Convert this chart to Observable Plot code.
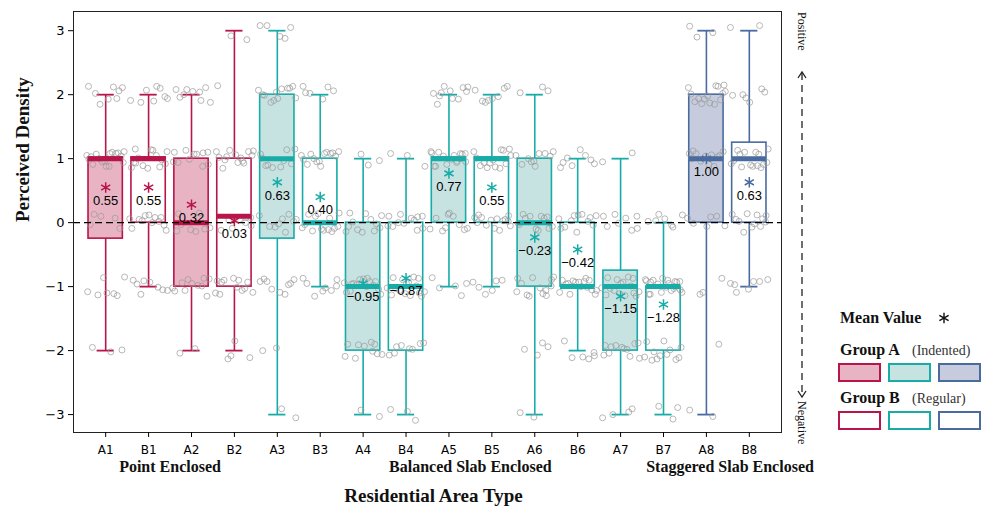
<!DOCTYPE html>
<html><head><meta charset="utf-8">
<script src="https://cdn.jsdelivr.net/npm/d3@7"></script>
<script src="https://cdn.jsdelivr.net/npm/@observablehq/plot@0.6"></script>
<style>
body{margin:0;background:#fff}
#wrap{position:relative;width:992px;height:513px}
#wrap svg{position:absolute;left:0;top:0}
</style>
</head><body><div id="wrap"></div>
<script>
const categories = ["A1","B1","A2","B2","A3","B3","A4","B4","A5","B5","A6","B6","A7","B7","A8","B8"];
const colorGroup = [0,0,0,0,1,1,1,1,1,1,1,1,1,1,2,2];
const filled = [1,0,1,0,1,0,1,0,1,0,1,0,1,0,1,0];
const strokeColors = ["#B8154A","#17ACA8","#4A6BA0"];
const fillColors = ["#E8B4C4","#C6E3E2","#C6CCDD"];

const whiskerLow  = [-2,-1,-2,-2,-3,-1,-3,-3,-1,-1,-3,-2,-3,-3,-3,-1];
const q1          = [-0.25,0,-1,-1,-0.25,0,-2,-2,0,0,-1,-1,-2,-2,0,0];
const medians     = [1,1,0,0.1,1,0,-1,-1,1,1,0,-1,-1,-1,1,1];
const q3          = [1.02,1.02,1,1,2,1,0,0,1.02,1.02,1,0,-0.75,-1,2,1.25];
const whiskerHigh = [2,2,2,3,3,2,1,1,2,2,2,1,1,0,3,3];
const means       = [0.55,0.55,0.28,0.03,0.63,0.40,-0.95,-0.87,0.77,0.55,-0.23,-0.42,-1.15,-1.28,1.00,0.63];
const meanLabels  = ["0.55","0.55","0.32","0.03","0.63","0.40","\u22120.95","\u22120.87","0.77","0.55","\u22120.23","\u22120.42","\u22121.15","\u22121.28","1.00","0.63"];

// response counts at levels -3..3 for each category (the grey jittered circles)
const levels = [-3,-2,-1,0,1,2,3];
const responseCounts = [
  [0,3,7,5,17,8,0],
  [0,0,8,12,14,8,0],
  [0,2,11,8,11,9,0],
  [0,4,12,8,14,1,2],
  [2,2,9,9,10,12,5],
  [0,0,8,14,14,6,0],
  [2,10,15,12,3,0,0],
  [3,8,16,12,3,0,0],
  [0,0,5,10,16,11,0],
  [0,0,6,14,14,8,0],
  [2,4,13,12,10,3,0],
  [0,6,16,12,8,0,0],
  [4,12,16,8,2,0,0],
  [3,12,20,7,0,0,0],
  [2,1,3,6,12,15,3],
  [0,0,7,12,15,6,2]
];
const jitterX = [-0.31,0.12,0.38,-0.05,0.27,-0.42,0.19,-0.18,0.44,0.03,-0.36,0.22,-0.11,0.33,-0.27,0.08,0.41,-0.22,0.15,-0.39,0.29,-0.08,0.36,-0.15,0.01,-0.44,0.24,-0.30,0.10,0.43,-0.02,-0.34,0.18,0.31,-0.24,0.06,-0.40,0.39,-0.13,0.26];
const jitterY = [0.05,-0.09,0.13,-0.02,0.08,-0.12,0.01,0.11,-0.06,0.14,-0.04,0.07,-0.14,0.03,0.10,-0.08,0.12,-0.01,-0.11,0.06,0.09,-0.13,0.02,-0.05,0.15,-0.07,0.04,-0.10,0.13,0.00,-0.03,0.11,-0.12,0.07,-0.15,0.05,0.10,-0.06,0.08,-0.09];

const yTicks = [-3,-2,-1,0,1,2,3];
const groupLabels = ["Point Enclosed","Balanced Slab Enclosed","Staggered Slab Enclosed"];
const groupLabelPos = [1.5,8.5,14.55];

const stats = categories.map((c,i)=>({
  i, c, lo: whiskerLow[i], q1: q1[i], med: medians[i], q3: q3[i], hi: whiskerHigh[i],
  mean: means[i], label: meanLabels[i],
  stroke: strokeColors[colorGroup[i]], fill: filled[i] ? fillColors[colorGroup[i]] : "#fff"
}));

const points = [];
responseCounts.forEach((counts,i)=>{
  let j = 0;
  counts.forEach((n,k)=>{
    for (let m=0;m<n;m++){
      points.push({x: i + jitterX[(j + i*7) % jitterX.length], y: levels[k] + jitterY[(j*3 + i*5) % jitterY.length]});
      j++;
    }
  });
});

const BW = 0.4, CW = 0.2;
const fmt = d => d < 0 ? "\u2212" + (-d) : String(d);

const plot = Plot.plot({
  width: 992, height: 513,
  marginLeft: 73, marginRight: 211, marginTop: 11, marginBottom: 81,
  style: {fontFamily: "DejaVu Sans", background: "#fff", overflow: "visible"},
  x: {type: "linear", domain: [-0.75, 15.75]},
  y: {domain: [-3.28, 3.3]},
  marks: [
    Plot.ruleX(stats, {x: "i", y1: "lo", y2: "q1", stroke: "stroke", strokeWidth: 1.6}),
    Plot.ruleX(stats, {x: "i", y1: "q3", y2: "hi", stroke: "stroke", strokeWidth: 1.6}),
    Plot.ruleY(stats, {y: "lo", x1: d=>d.i-CW, x2: d=>d.i+CW, stroke: "stroke", strokeWidth: 1.8}),
    Plot.ruleY(stats, {y: "hi", x1: d=>d.i-CW, x2: d=>d.i+CW, stroke: "stroke", strokeWidth: 1.8}),
    Plot.rect(stats, {x1: d=>d.i-BW, x2: d=>d.i+BW, y1: "q1", y2: "q3", fill: "fill", stroke: "stroke", strokeWidth: 1.6}),
    Plot.dot(points, {x: "x", y: "y", r: 3, stroke: "#9a9a9a", strokeOpacity: 0.7, strokeWidth: 1, fill: "none"}),
    Plot.ruleY(stats, {y: "med", x1: d=>d.i-BW, x2: d=>d.i+BW, stroke: "stroke", strokeWidth: 5}),
    Plot.ruleY([0], {stroke: "#000", strokeWidth: 1.2, strokeDasharray: "7,4"}),
    Plot.dot(stats, {x: "i", y: "mean", symbol: "asterisk", r: 5, stroke: "stroke", strokeWidth: 1.5}),
    Plot.text(stats, {x: "i", y: "mean", text: "label", dy: 13, fontSize: 13, fontFamily: "Liberation Sans", fill: "#000"}),
    Plot.frame({stroke: "#222", strokeWidth: 1}),
    Plot.axisX(d3.range(categories.length), {tickFormat: i => categories[i], tickSize: 5, tickPadding: 8, fontSize: 12, label: null}),
    Plot.axisY(yTicks, {tickFormat: fmt, tickSize: 5, tickPadding: 4, fontSize: 13, label: null}),
    Plot.text(groupLabels, {x: (d,i)=>groupLabelPos[i], text: d=>d, frameAnchor: "bottom", dy: 39, fontSize: 16, fontWeight: "bold", fontFamily: "Liberation Serif", fill: "#111"}),
    Plot.text(["Residential Area Type"], {frameAnchor: "bottom", dx: 6, dy: 69, fontSize: 19, fontWeight: "bold", fontFamily: "Liberation Serif", fill: "#111"}),
    Plot.text(["Perceived Density"], {frameAnchor: "left", dx: -51, rotate: -90, fontSize: 19, fontWeight: "bold", fontFamily: "Liberation Serif", fill: "#111"})
  ]
});
document.getElementById("wrap").appendChild(plot);

// overlay: right-side direction annotation and legend
const ov = d3.select("#wrap").append("svg").attr("width", 992).attr("height", 513).style("pointer-events","none");
const serif = "Liberation Serif";
ov.append("text").attr("transform","translate(802,12) rotate(90)").attr("dominant-baseline","central")
  .attr("font-family", serif).attr("font-size", 12).attr("fill","#111").text("Positive");
ov.append("text").attr("transform","translate(802,401) rotate(90)").attr("dominant-baseline","central")
  .attr("font-family", serif).attr("font-size", 12).attr("fill","#111").text("Negative");
ov.append("line").attr("x1",802).attr("x2",802).attr("y1",73).attr("y2",396).attr("stroke","#222").attr("stroke-width",1.3).attr("stroke-dasharray","7,5");
ov.append("polyline").attr("points","798,78 802,72 806,78").attr("fill","none").attr("stroke","#222").attr("stroke-width",1.3);
ov.append("polyline").attr("points","798,391 802,397 806,391").attr("fill","none").attr("stroke","#222").attr("stroke-width",1.3);

ov.append("text").attr("x",840).attr("y",323).attr("font-family",serif).attr("font-weight","bold").attr("font-size",16).attr("fill","#111").text("Mean Value");
ov.append("path").attr("transform","translate(944,318)").attr("d", d3.symbol(d3.symbolAsterisk, 80)()).attr("stroke","#111").attr("stroke-width",1.4).attr("fill","none");
ov.append("text").attr("x",840).attr("y",355).attr("font-family",serif).attr("font-weight","bold").attr("font-size",16).attr("fill","#111").text("Group A");
ov.append("text").attr("x",912).attr("y",355).attr("font-family",serif).attr("font-size",14).attr("fill","#333").text("(Indented)");
ov.append("text").attr("x",840).attr("y",403).attr("font-family",serif).attr("font-weight","bold").attr("font-size",16).attr("fill","#111").text("Group B");
ov.append("text").attr("x",912).attr("y",403).attr("font-family",serif).attr("font-size",14).attr("fill","#333").text("(Regular)");
[0,1,2].forEach(g=>{
  const x = 839 + g*50;
  ov.append("rect").attr("x",x).attr("y",364).attr("width",41).attr("height",17).attr("fill",fillColors[g]).attr("stroke",strokeColors[g]).attr("stroke-width",2);
  ov.append("rect").attr("x",x).attr("y",412).attr("width",41).attr("height",17).attr("fill","#fff").attr("stroke",strokeColors[g]).attr("stroke-width",2);
});
</script>
</body></html>
